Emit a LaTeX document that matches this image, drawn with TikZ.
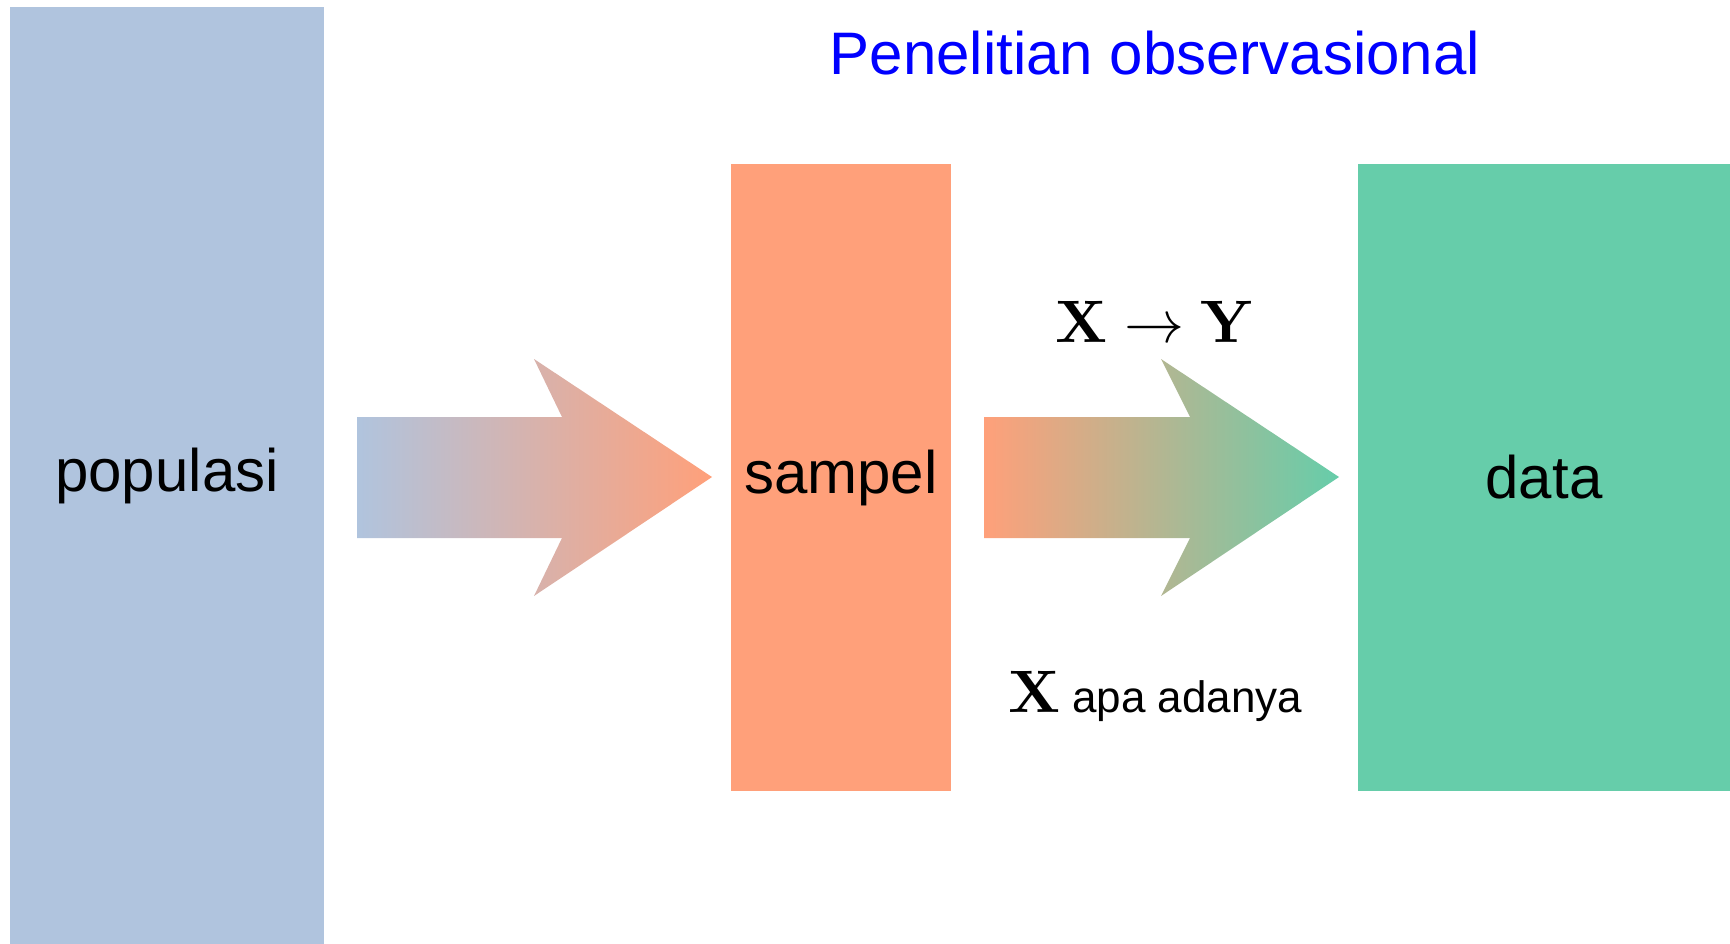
\documentclass[tikz,border=0pt]{standalone}
\usepackage{graphicx}
\usepackage[no-math]{fontspec}
\newfontfamily\arial{Liberation Sans}
\definecolor{popc}{RGB}{176,196,222}
\definecolor{samc}{RGB}{255,160,122}
\definecolor{datc}{RGB}{102,205,170}
\definecolor{ttlc}{RGB}{0,0,255}
\tikzset{
  blockbox/.style={draw=none, inner sep=0pt, font=\arial\fontsize{60}{72}\selectfont},
  txt/.style={inner sep=0pt},
}
\begin{document}
\begin{tikzpicture}[x=1pt,y=-1pt]
\useasboundingbox (0,0) rectangle (1730,944);
\node[blockbox, fill=popc, minimum width=314pt, minimum height=937pt] (pop) at (167,475.5) {populasi};
\node[blockbox, fill=samc, minimum width=220pt, minimum height=627pt] (sam) at (841,477.5) {sampel};
\node[blockbox, fill=datc, minimum width=372pt, minimum height=627pt] (dat) at (1544,477.5) {data};
\shade[left color=popc, right color=samc]
  (357,417) -- (562,417) -- (534,359) -- (712,477) -- (534,596) -- (562,538) -- (357,538) -- cycle;
\shade[left color=samc, right color=datc]
  (984,417) -- (1190,417) -- (1161,359) -- (1339,477) -- (1161,596) -- (1190,538) -- (984,538) -- cycle;
\node[txt, anchor=base] (xy) at (1155,342) {\scalebox{6}{$\mathbf{X}\to\mathbf{Y}$}};
\node[txt, anchor=base west] (xapa) at (1008,712) {\scalebox{6}{$\mathbf{X}$}\hspace{12pt}{\arial\fontsize{44}{50}\selectfont apa adanya}};
\node[inner sep=0pt, anchor=base, text=ttlc, font=\arial\fontsize{60}{72}\selectfont] (title) at (1155,75) {Penelitian observasional};
\end{tikzpicture}
\end{document}
